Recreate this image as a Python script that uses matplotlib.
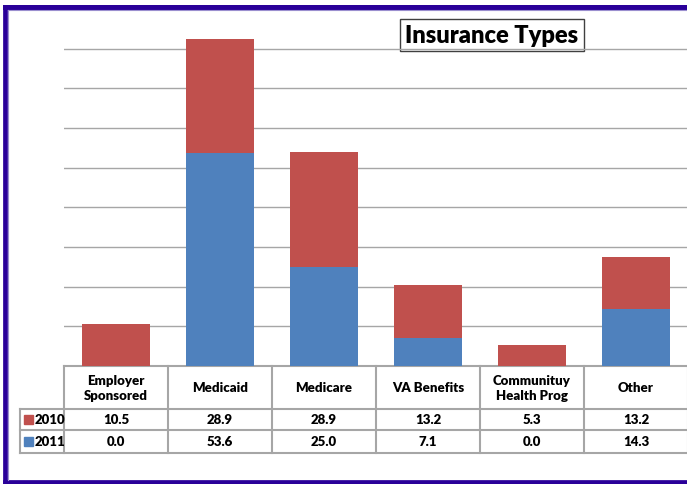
import matplotlib.pyplot as plt
from matplotlib.patches import Rectangle

categories = ['Employer\nSponsored', 'Medicaid', 'Medicare', 'VA Benefits',
              'Communituy\nHealth Prog', 'Other']
vals_2010 = [10.5, 28.9, 28.9, 13.2, 5.3, 13.2]
vals_2011 = [0.0, 53.6, 25.0, 7.1, 0.0, 14.3]
series = ['2010', '2011']

red = '#C0504D'
blue = '#4F81BD'
grid_c = '#a6a6a6'
plt.rcParams['font.family'] = ['Lato', 'DejaVu Sans']

W, H = 687, 485
fig = plt.figure(figsize=(W / 100, H / 100), dpi=100)

# overlay axes in pixel coordinates for border + table
ov = fig.add_axes([0, 0, 1, 1])
ov.set_xlim(0, W)
ov.set_ylim(H, 0)
ov.axis('off')

# bar axes
x0, x1, ybot, ytop = 64, 688, 367, 10
ax = fig.add_axes([x0 / W, (H - ybot) / H, (x1 - x0) / W, (ybot - ytop) / H])
ax.patch.set_alpha(0)
xs = range(len(categories))
ax.bar(xs, vals_2011, width=0.65, color=blue, zorder=3)
ax.bar(xs, vals_2010, width=0.65, bottom=vals_2011, color=red, zorder=3)
ax.set_xlim(-0.5, len(categories) - 0.5)
ax.set_ylim(0, 90)
for v in range(10, 90, 10):
    ax.axhline(v, color=grid_c, lw=1, zorder=1)
for s in ax.spines.values():
    s.set_visible(False)
ax.set_xticks([])
ax.set_yticks([])

# title box
ov.text(492, 36, 'Insurance Types', fontsize=17, fontweight='heavy',
        ha='center', va='center', zorder=5,
        bbox=dict(boxstyle='square,pad=0.22', fc='white', ec='#404040', lw=1))

# data table
colw = (x1 - x0) / len(categories)
yh0, yh1, yr1, yr2 = 367, 410, 431, 454
lkw = dict(color=grid_c, lw=1.5, zorder=4)
ov.plot([x0, x1], [yh0, yh0], **lkw)
for y in (yh1, yr1, yr2):
    ov.plot([20, x1], [y, y], **lkw)
ov.plot([20, 20], [yh1, yr2], **lkw)
for i in range(len(categories) + 1):
    xx = x0 + i * colw
    ov.plot([xx, xx], [yh0, yr2], **lkw)

tkw = dict(fontsize=9.5, fontweight='heavy', ha='center', va='center', zorder=5)
for i, cat in enumerate(categories):
    cx = x0 + (i + 0.5) * colw
    ov.text(cx, (yh0 + yh1) / 2, cat, linespacing=1.35, **tkw)
    ov.text(cx, (yh1 + yr1) / 2, f'{vals_2010[i]:.1f}', **tkw)
    ov.text(cx, (yr1 + yr2) / 2, f'{vals_2011[i]:.1f}', **tkw)

for name, col, (ya, yb) in zip(series, [red, blue], [(yh1, yr1), (yr1, yr2)]):
    ym = (ya + yb) / 2
    ov.add_patch(Rectangle((24, ym - 4.5), 9, 9, color=col, zorder=5))
    ov.text(35, ym, name, fontsize=9.5, fontweight='heavy', ha='left', va='center', zorder=5)

# outer border (right side cropped off)
bc = '#2a0099'
ov.plot([5, 5], [7.5, 483], color=bc, lw=3.4, solid_capstyle='projecting', zorder=6)
ov.plot([5, W + 5], [7.5, 7.5], color=bc, lw=3.6, solid_capstyle='projecting', zorder=6)
ov.plot([5, W + 5], [483, 483], color=bc, lw=3.4, solid_capstyle='projecting', zorder=6)
ov.plot([8, W + 5], [10.5, 10.5], color='#9b8fcf', lw=0.8, zorder=6)
ov.plot([8, 8], [10.5, 481], color='#9b8fcf', lw=0.8, zorder=6)

fig.savefig('out.png', dpi=100)
